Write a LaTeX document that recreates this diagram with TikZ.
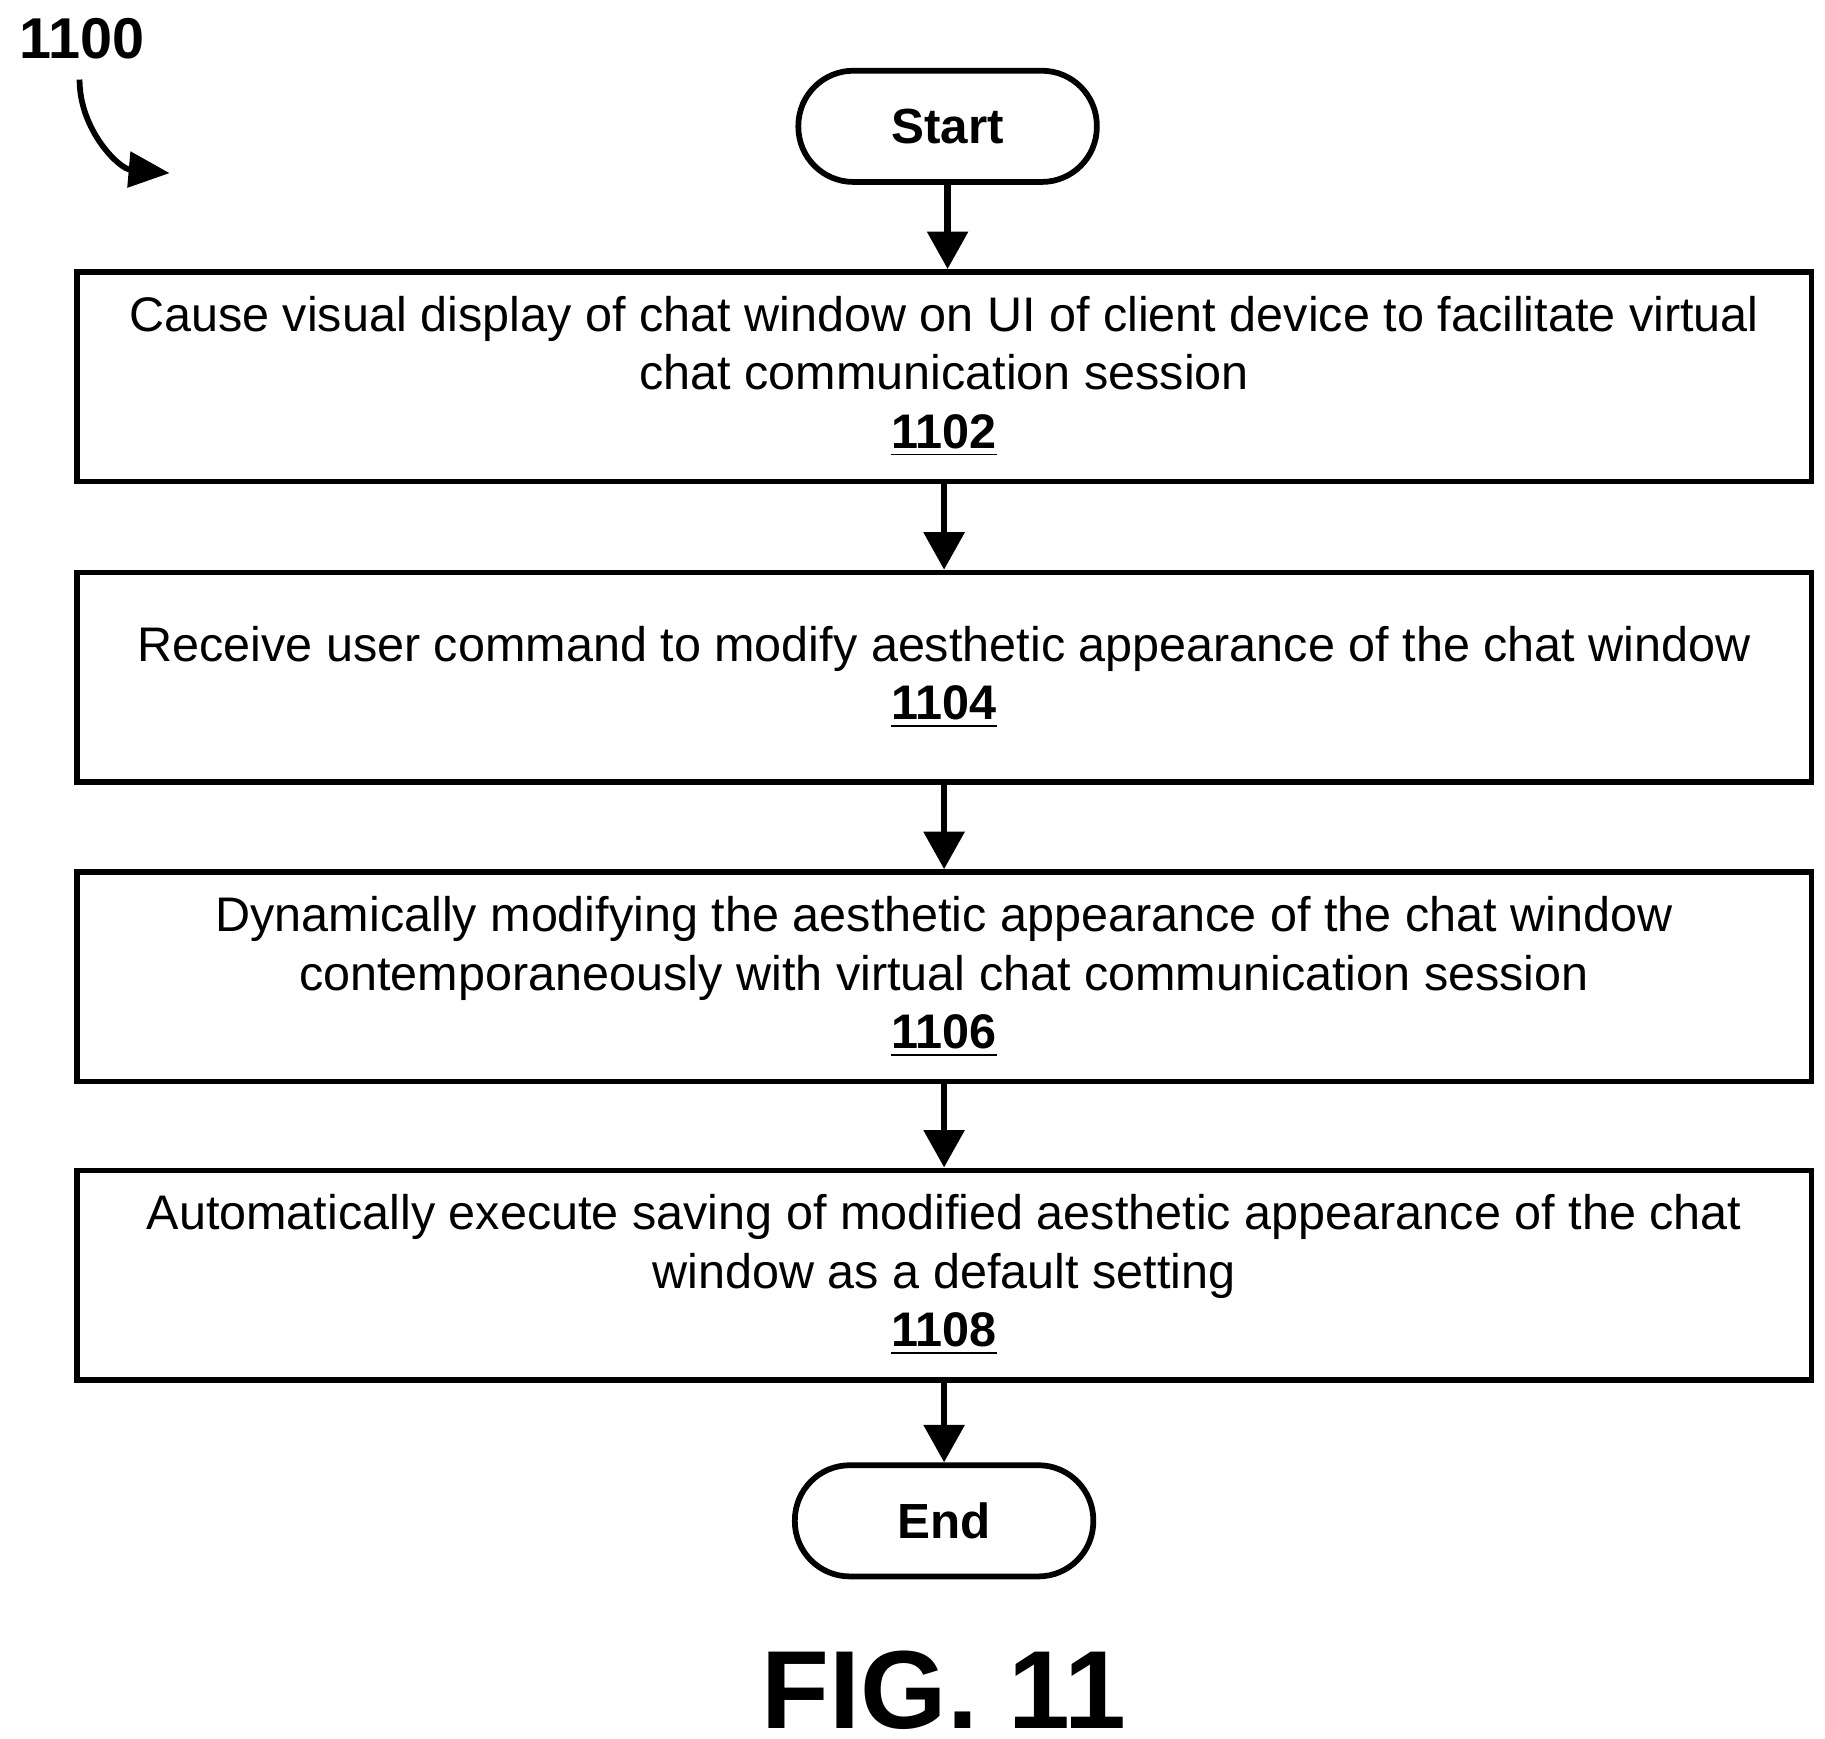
\documentclass[tikz,border=0pt]{standalone}
\usepackage{fontspec}
\setmainfont{Liberation Sans}
\usetikzlibrary{arrows.meta,positioning}
\begin{document}
\begin{tikzpicture}[x=0.01cm,y=-0.01cm,{box/.style={rectangle,draw=black,line width=1.4pt,minimum width=14.82cm,minimum height=1.79cm,align=center,font=\fontsize{11.8}{14.2}\selectfont}},{term/.style={rectangle,rounded corners=0.47cm,draw=black,line width=1.4pt,minimum width=2.55cm,minimum height=0.95cm,font=\fontsize{12}{14}\selectfont\bfseries}},{flow/.style={-{Triangle[length=3.2mm,width=3.4mm]},line width=1.6pt}}]
	%%frame
	\useasboundingbox (0,0) rectangle (1560,1486);
	%%nodes
	\node [term] (start) at (810,108) {Start};
	\node [box] (s1102) at (807,322) {Cause visual display of chat window on UI of client device to facilitate virtual\\chat communication session\\\textbf{\underline{1102}}};
	\node [box] (s1104) at (807,579) {Receive user command to modify aesthetic appearance of the chat window\\\textbf{\underline{1104}}};
	\node [box] (s1106) at (807,835) {Dynamically modifying the aesthetic appearance of the chat window\\contemporaneously with virtual chat communication session\\\textbf{\underline{1106}}};
	\node [box] (s1108) at (807,1090) {Automatically execute saving of modified aesthetic appearance of the chat\\window as a default setting\\\textbf{\underline{1108}}};
	\node [term] (end) at (807,1300) {End};
	%%arrows
	\draw [flow] (start) -- (start|-s1102.north);
	\draw [flow] (s1102) -- (s1104);
	\draw [flow] (s1104) -- (s1106);
	\draw [flow] (s1106) -- (s1108);
	\draw [flow] (s1108) -- (end);
	%%labels
	\node [font=\fontsize{14}{16}\selectfont\bfseries] (fig) at (70,33) {1100};
	\coordinate (figtip) at (145,148);
	\draw [-{Triangle[length=3.5mm,width=3mm]},line width=1.4pt] (68,68) to [out=-90,in=175] (figtip);
	\node [font=\fontsize{27}{30}\selectfont\bfseries] (title) at (807,1445) {FIG. 11};
\end{tikzpicture}
\end{document}
